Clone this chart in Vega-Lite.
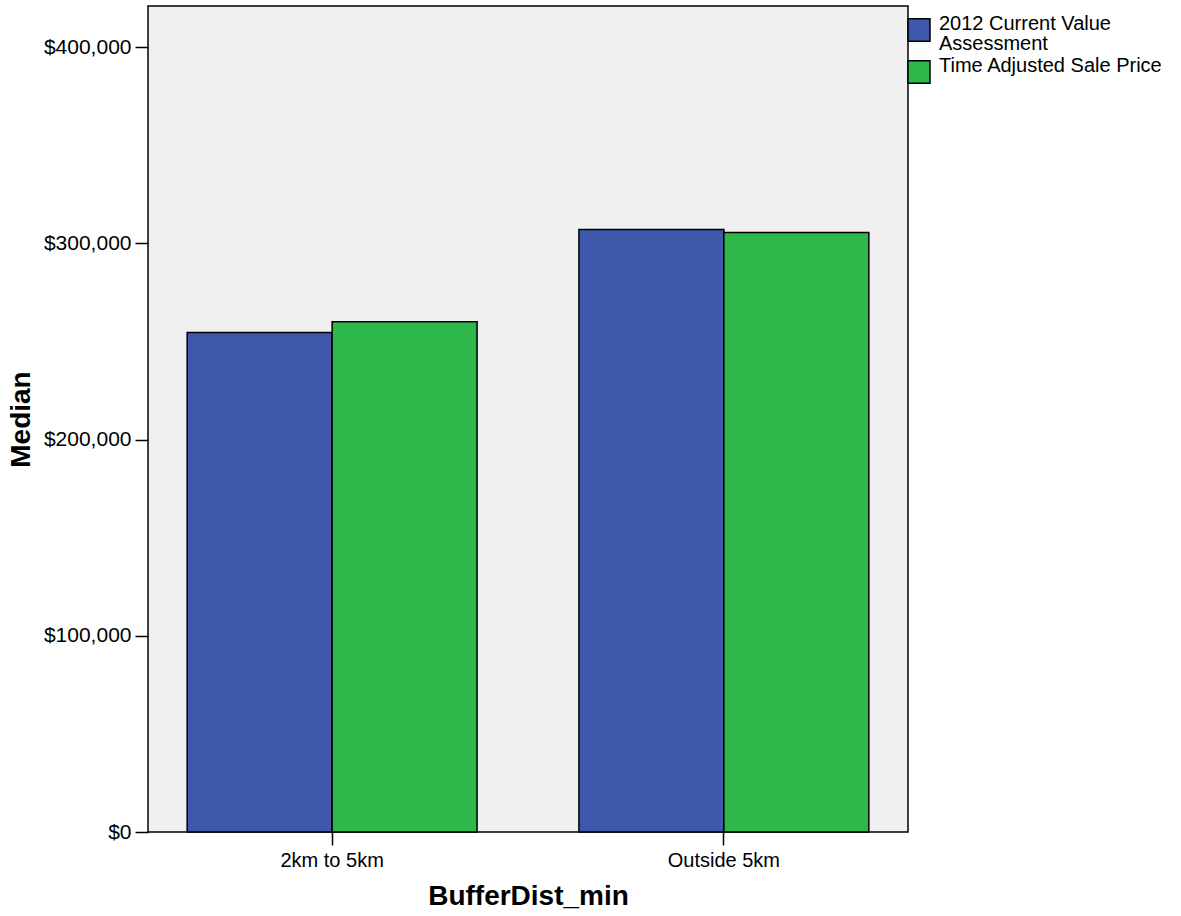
{
  "$schema": "https://vega.github.io/schema/vega-lite/v6.json",
  "width": 760,
  "height": 826,
  "autosize": {"type": "none"},
  "padding": {"left": 148, "top": 6, "right": 273, "bottom": 84},
  "background": "white",
  "config": {
    "font": "Liberation Sans",
    "view": {"fill": "#f0f0f0", "stroke": "black", "strokeWidth": 1.5},
    "style": {"guide-label": {"lineHeight": 20}}
  },
  "data": {
    "values": [
      {"BufferDist_min": "2km to 5km", "Series": "2012 Current Value Assessment", "Median": 254500},
      {"BufferDist_min": "2km to 5km", "Series": "Time Adjusted Sale Price", "Median": 260000},
      {"BufferDist_min": "Outside 5km", "Series": "2012 Current Value Assessment", "Median": 307000},
      {"BufferDist_min": "Outside 5km", "Series": "Time Adjusted Sale Price", "Median": 305500}
    ]
  },
  "mark": {"type": "bar", "stroke": "black", "strokeWidth": 1.5},
  "encoding": {
    "x": {
      "field": "BufferDist_min",
      "type": "nominal",
      "scale": {"paddingInner": 0.26, "paddingOuter": 0.1},
      "axis": {
        "title": "BufferDist_min",
        "titleFontSize": 28,
        "titleFontWeight": "bold",
        "titleColor": "black",
        "titlePadding": 12,
        "labelAngle": 0,
        "labelFontSize": 20,
        "labelColor": "black",
        "labelPadding": 5,
        "tickSize": 13,
        "tickColor": "black",
        "tickWidth": 1.5,
        "domain": false,
        "grid": false
      }
    },
    "xOffset": {
      "field": "Series",
      "type": "nominal",
      "sort": ["2012 Current Value Assessment", "Time Adjusted Sale Price"]
    },
    "y": {
      "field": "Median",
      "type": "quantitative",
      "scale": {"domain": [0, 420900], "nice": false, "zero": true},
      "axis": {
        "title": "Median",
        "titleFontSize": 28,
        "titleFontWeight": "bold",
        "titleColor": "black",
        "titlePadding": 8,
        "values": [0, 100000, 200000, 300000, 400000],
        "format": "$,.0f",
        "labelFontSize": 21,
        "labelColor": "black",
        "labelPadding": 4,
        "tickSize": 13,
        "tickColor": "black",
        "tickWidth": 1.5,
        "domain": false,
        "grid": false
      }
    },
    "color": {
      "field": "Series",
      "type": "nominal",
      "scale": {
        "domain": ["2012 Current Value Assessment", "Time Adjusted Sale Price"],
        "range": ["#3e58ab", "#2eb84a"]
      },
      "legend": {
        "title": null,
        "orient": "none",
        "legendX": 759,
        "legendY": 6,
        "symbolType": "M-1,-0.47H1V1.57H-1Z",
        "symbolSize": 484,
        "symbolStrokeColor": "black",
        "symbolStrokeWidth": 1.5,
        "labelFontSize": 20,
        "labelColor": "black",
        "labelLimit": 0,
        "labelOffset": 8,
        "rowPadding": 0,
        "labelExpr": "datum.label == '2012 Current Value Assessment' ? ['2012 Current Value', 'Assessment'] : datum.label"
      }
    }
  }
}
